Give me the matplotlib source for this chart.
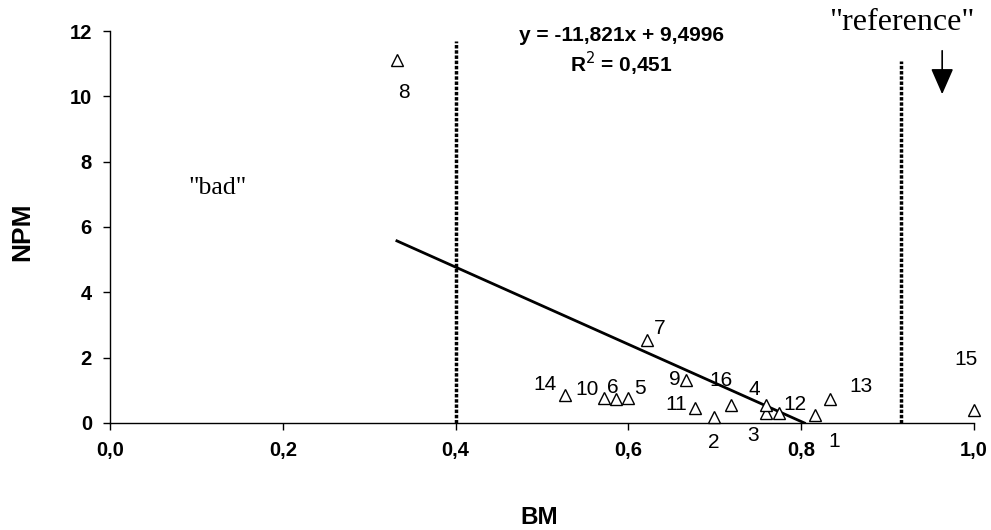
import matplotlib
matplotlib.use("Agg")
import matplotlib.pyplot as plt
from matplotlib.ticker import FuncFormatter

# data
labels = ["1", "2", "3", "4", "5", "6", "7", "8", "9", "10", "11", "12", "13", "14", "15", "16"]
bm = [0.816, 0.699, 0.759, 0.759, 0.599, 0.586, 0.621, 0.332, 0.667, 0.572, 0.677, 0.774, 0.833, 0.526, 1.0, 0.719]
npm = [0.25, 0.19, 0.31, 0.55, 0.77, 0.73, 2.54, 11.1, 1.32, 0.77, 0.46, 0.31, 0.73, 0.86, 0.40, 0.55]
# label offsets in pixels (dx, dy)
label_dx = [19, 0, -13, -12, 12, -4, 13, 7, -12, -17, -19, 16, 31, -20, -8, -10]
label_dy = [-27, -26, -23, 16, 9, 12, 12, -32, 0, 8, 3, 8, 13, 10, 50, 25]

slope = -11.821
intercept = 9.4996
r2 = "0,451"
cut_bad = 0.4
cut_ref = 0.9155

plt.rcParams["font.family"] = ["Liberation Sans", "DejaVu Sans"]

fig = plt.figure(figsize=(9.91, 5.30), dpi=100)
ax = fig.add_axes([0.111, 0.2019, 0.872, 0.7396])

ax.plot(bm, npm, linestyle="none", marker="^", markersize=9, markerfacecolor="white",
        markeredgecolor="black", markeredgewidth=1.0, clip_on=False, zorder=3)

for lab, x, y, dx, dy in zip(labels, bm, npm, label_dx, label_dy):
    ax.annotate(lab, (x, y), xytext=(dx, dy), textcoords="offset pixels",
                ha="center", va="center", fontsize=15, annotation_clip=False)

# regression line
x0 = min(bm)
x1 = -intercept / slope
ax.plot([x0, x1], [slope * x0 + intercept, slope * x1 + intercept], color="black", lw=2)

# dotted limits
ax.plot([cut_bad, cut_bad], [0, 11.7], color="black", lw=2.5, linestyle=(0, (1, 0.5)))
ax.plot([cut_ref, cut_ref], [0, 11.08], color="black", lw=2.5, linestyle=(0, (1, 0.5)))

ax.text(0.592, 11.85, "y = -11,821x + 9,4996", ha="center", va="center", fontsize=15, fontweight="bold")
ax.text(0.592, 11.0, "R$^2$ = " + r2, ha="center", va="center", fontsize=15, fontweight="bold")

ax.text(0.125, 7.19, '"bad"', ha="center", va="center", fontsize=18.5, family="Liberation Serif")
ax.text(0.916, 12.27, '"reference"', ha="center", va="center", fontsize=23,
        family="Liberation Serif", clip_on=False)
ax.annotate("", xy=(0.963, 9.98), xytext=(0.963, 11.48),
            arrowprops=dict(arrowstyle="-|>,head_length=0.8,head_width=0.35",
                            mutation_scale=20, lw=1.2, color="black"),
            annotation_clip=False)

ax.set_xlim(0, 1.0)
ax.set_ylim(0, 12)
ax.set_xticks([0, 0.2, 0.4, 0.6, 0.8, 1.0])
ax.set_yticks(range(0, 13, 2))
ax.xaxis.set_major_formatter(FuncFormatter(lambda v, p: f"{v:.1f}".replace(".", ",")))
ax.tick_params(axis="both", direction="out", length=5, width=1, labelsize=14.5, pad=8)
for t in ax.get_xticklabels() + ax.get_yticklabels():
    t.set_fontweight("bold")

for s in ["top", "right"]:
    ax.spines[s].set_visible(False)
ax.spines["left"].set_linewidth(1)
ax.spines["bottom"].set_linewidth(1)

fig.text(0.022, 0.562, "NPM", rotation=90, ha="center", va="center", fontsize=19, fontweight="bold")
fig.text(0.544, 0.0245, "BM", ha="center", va="center", fontsize=17.5, fontweight="bold")

fig.savefig("out.png", dpi=100)
